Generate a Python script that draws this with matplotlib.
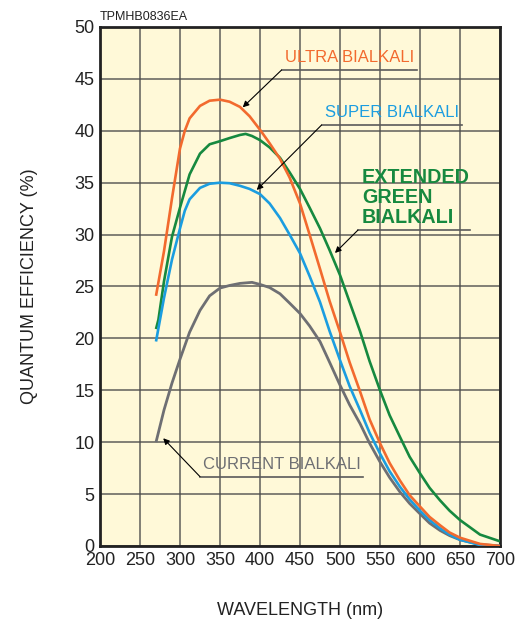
import matplotlib

matplotlib.use("Agg")
import matplotlib.pyplot as plt

plt.rcParams["font.family"] = ["Liberation Sans", "DejaVu Sans"]

# wavelength (nm) and quantum efficiency (%)
ultra_wl = [270, 280, 290, 300, 306, 312, 325, 337, 350, 362, 375, 387, 400, 412,
            425, 437, 450, 462, 475, 487, 500, 512, 525, 537, 550, 562, 575, 587,
            600, 612, 625, 637, 650, 675, 700]
ultra_qe = [24.1, 28.4, 33.5, 38.3, 40.0, 41.2, 42.4, 42.9, 43.0, 42.8, 42.3, 41.4,
            40.1, 38.8, 37.3, 35.5, 33.0, 30.0, 26.7, 23.6, 20.6, 17.7, 14.9, 12.2,
            9.9, 8.0, 6.3, 4.9, 3.8, 2.8, 2.0, 1.3, 0.8, 0.2, 0.0]

super_wl = [270, 275, 280, 290, 300, 306, 312, 325, 337, 350, 362, 375, 387, 400,
            412, 425, 437, 450, 462, 475, 487, 500, 512, 525, 537, 550, 562, 575,
            587, 600, 612, 625, 637, 650, 675, 700]
super_qe = [19.7, 21.8, 23.9, 27.6, 30.6, 32.3, 33.4, 34.5, 34.9, 35.0, 34.95, 34.7,
            34.4, 33.9, 33.0, 31.6, 30.0, 28.2, 26.0, 23.5, 20.7, 17.9, 15.4, 13.1,
            10.9, 8.9, 7.2, 5.7, 4.5, 3.4, 2.5, 1.7, 1.1, 0.6, 0.1, 0.0]

green_wl = [270, 273, 280, 290, 300, 312, 325, 337, 350, 362, 375, 382, 390, 400,
            412, 425, 437, 450, 462, 475, 487, 500, 512, 525, 537, 550, 562, 575,
            587, 600, 612, 625, 637, 650, 675, 700]
green_qe = [20.9, 21.8, 25.5, 29.8, 32.6, 35.8, 37.8, 38.7, 39.0, 39.3, 39.6, 39.7,
            39.5, 39.1, 38.4, 37.4, 36.0, 34.4, 32.6, 30.6, 28.5, 26.1, 23.5, 20.7,
            17.8, 15.0, 12.6, 10.5, 8.6, 7.0, 5.6, 4.4, 3.4, 2.5, 1.1, 0.45]

current_wl = [270, 280, 290, 300, 312, 325, 337, 350, 362, 375, 390, 400, 412, 425,
              437, 450, 462, 475, 487, 500, 512, 525, 537, 550, 562, 575, 587, 600,
              612, 625, 637, 650, 675, 700]
current_qe = [10.0, 13.1, 15.7, 18.0, 20.6, 22.7, 24.1, 24.85, 25.1, 25.3, 25.4, 25.2,
              24.9, 24.3, 23.4, 22.4, 21.2, 19.7, 17.7, 15.5, 13.6, 11.8, 9.9, 8.1,
              6.6, 5.2, 4.1, 3.1, 2.2, 1.5, 1.0, 0.6, 0.15, 0.0]

x_ticks = list(range(200, 701, 50))
y_ticks = list(range(0, 51, 5))

ORANGE = "#f26a2e"
BLUE = "#1b9de0"
GREEN = "#16893f"
GRAY = "#6e6f73"
LEADER = "#5a5a5a"

fig = plt.figure(figsize=(5.16, 6.25), dpi=100)
ax = fig.add_axes([0.1938, 0.1264, 0.7752, 0.8304])
ax.set_facecolor("#fff9d8")

ax.plot(current_wl, current_qe, color=GRAY, lw=2.0, solid_capstyle="butt", zorder=3)
ax.plot(green_wl, green_qe, color=GREEN, lw=1.9, solid_capstyle="butt", zorder=3)
ax.plot(super_wl, super_qe, color=BLUE, lw=1.9, solid_capstyle="butt", zorder=3)
ax.plot(ultra_wl, ultra_qe, color=ORANGE, lw=1.9, solid_capstyle="butt", zorder=3)

ax.set_xlim(200, 700)
ax.set_ylim(0, 50)
ax.set_xticks(x_ticks)
ax.set_yticks(y_ticks)
ax.tick_params(length=0, labelsize=13, pad=4, colors="#222222")
ax.grid(True, color="#4a4a4a", lw=1.3, alpha=0.75, zorder=1)
for s in ax.spines.values():
    s.set_linewidth(2.0)
    s.set_color("#222222")

ax.set_xlabel("WAVELENGTH (nm)", fontsize=13, labelpad=24, color="#222222")
ax.set_ylabel("QUANTUM EFFICIENCY (%)", fontsize=13, labelpad=26, color="#222222")

fig.text(0.1938, 0.963, "TPMHB0836EA", fontsize=9, color="#222222",
         ha="left", va="bottom")

arrow = dict(arrowstyle="-|>", color="black", lw=0.8, mutation_scale=9,
             shrinkA=0, shrinkB=0)

# (text, colour, weight, size, tip, underline start, underline end, text anchor, ha)
labels = [
    ("ULTRA BIALKALI", ORANGE, "normal", 12, (378.4, 42.26), (427, 45.86), 596,
     (511.5, 46.3), "center"),
    ("SUPER BIALKALI", BLUE, "normal", 12, (395.9, 34.3), (477, 40.56), 652,
     (564.5, 41.0), "center"),
    ("EXTENDED\nGREEN\nBIALKALI", GREEN, "bold", 14.2, (493.7, 28.23),
     (522.5, 30.44), 662.5, (527.5, 30.75), "left"),
    ("CURRENT BIALKALI", GRAY, "normal", 12, (279.0, 10.38), (325, 6.68), 529,
     (427, 7.1), "center"),
]
for text, col, weight, size, tip, start, end_x, anchor, ha in labels:
    ax.plot([start[0], end_x], [start[1], start[1]], color=LEADER, lw=1.2,
            zorder=4)
    ax.annotate("", xy=tip, xytext=start, arrowprops=arrow, zorder=5)
    ax.text(anchor[0], anchor[1], text, color=col, fontsize=size,
            fontweight=weight, ha=ha, va="bottom", linespacing=1.06, zorder=5)

fig.savefig("out.png", dpi=100)
